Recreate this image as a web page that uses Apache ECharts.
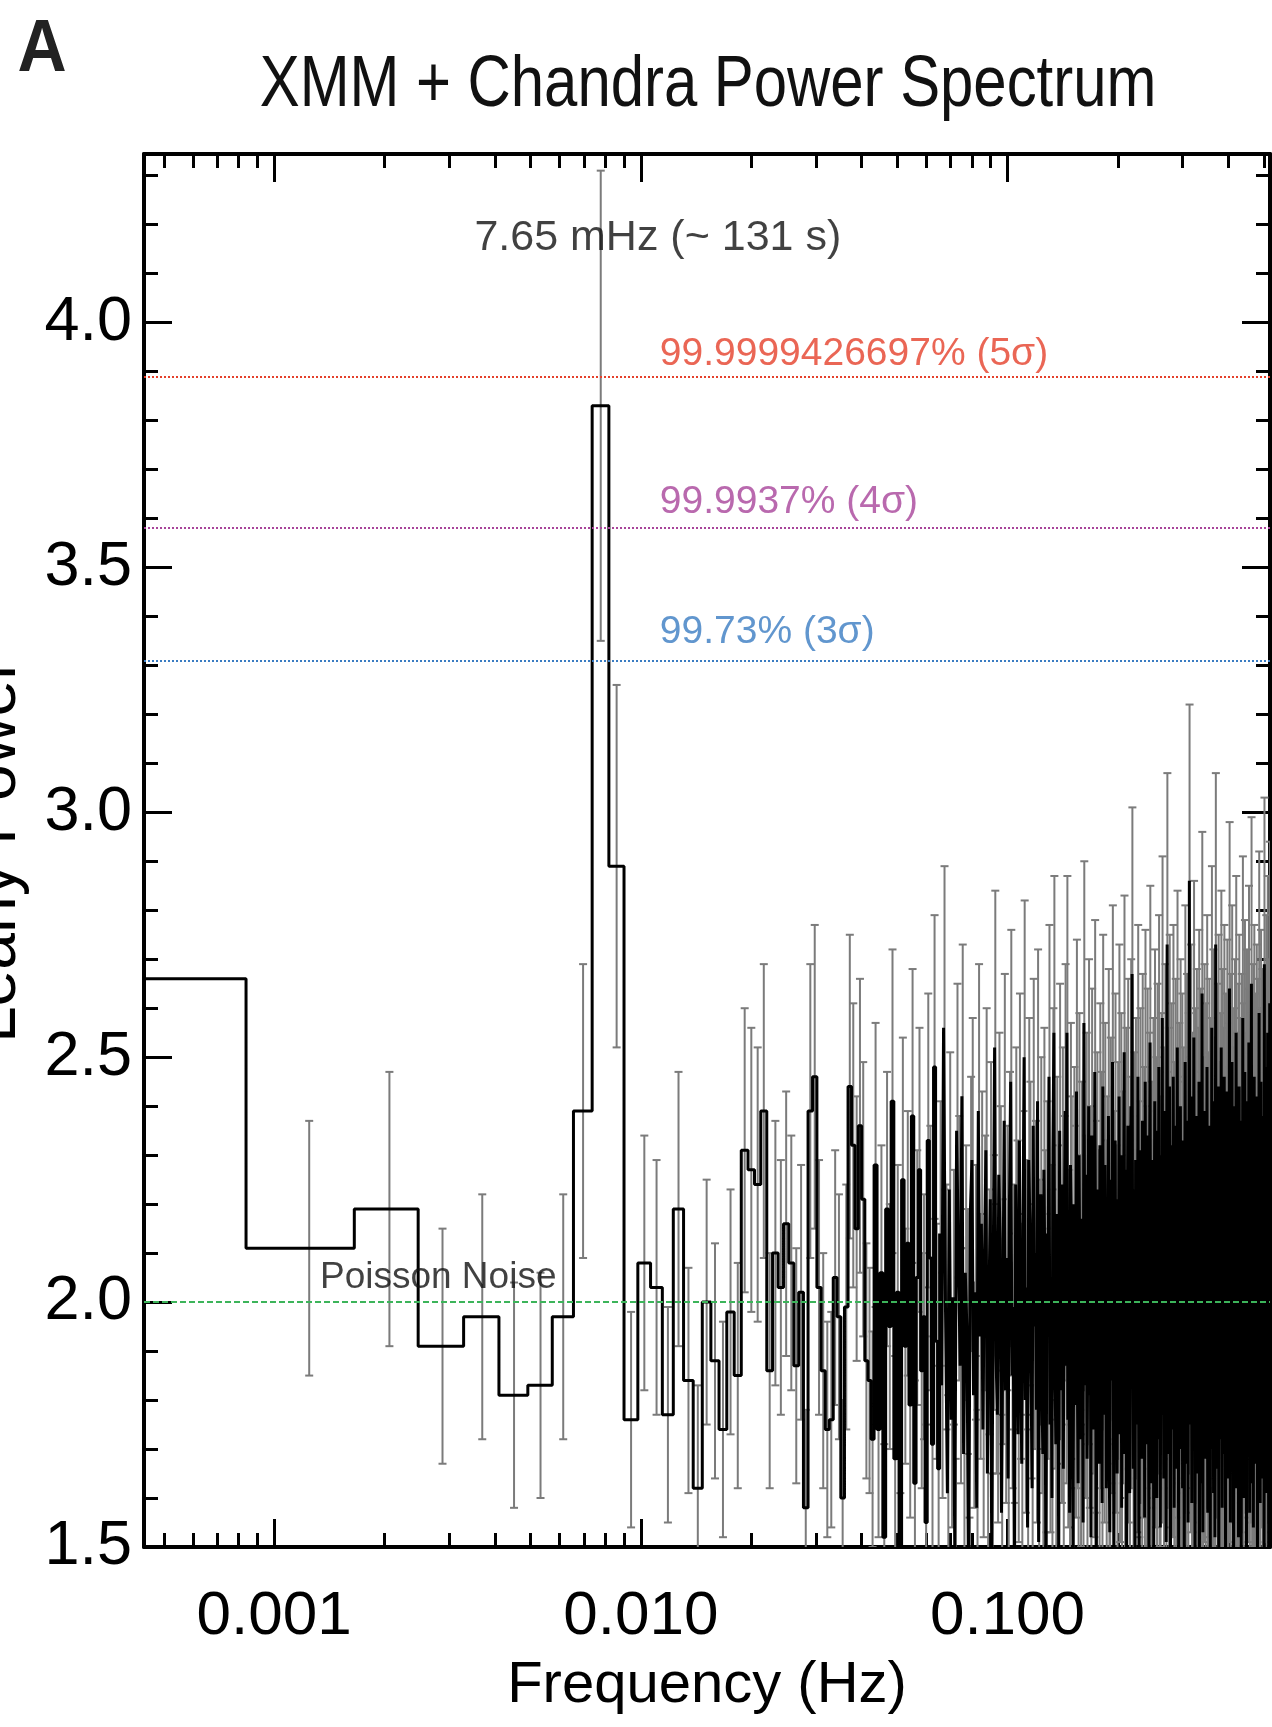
<!DOCTYPE html>
<html>
<head>
<meta charset="utf-8">
<script src="https://cdn.jsdelivr.net/npm/echarts@6/dist/echarts.min.js"></script>
<style>
  html, body { margin: 0; padding: 0; background: #fff; }
  #chart { width: 1272px; height: 1727px; }
</style>
</head>
<body>
<div id="chart"></div>
<script>
// Fourier frequency grid (Hz): first bin + constant spacing
const f0 = 0.00043;
const df = 0.000816;

// Leahy power per frequency bin (dense part estimated)
const power = [
  2.66, 2.11, 2.19, 1.91, 1.97, 1.81, 1.83, 1.97, 2.39, 3.83, 2.89, 1.76, 2.08, 2.03, 1.77, 2.19, 1.84, 1.62, 2.00, 1.88,
  1.74, 1.98, 1.85, 2.31, 2.27, 2.24, 2.39, 1.86, 2.10, 2.03, 2.16, 2.08, 1.87, 2.02, 1.58, 2.39, 2.46, 2.03, 1.86, 1.74,
  1.76, 2.05, 1.97, 1.60, 1.99,
  2.44, 2.32, 2.15, 2.36, 2.21, 1.88, 1.84, 1.72, 2.28, 1.74, 2.06, 1.52, 2.19, 1.95, 2.41, 1.68, 2.02, 1.43, 2.25, 1.91,
  2.12, 1.79, 2.38, 1.63, 2.05, 2.27, 1.86, 1.97, 1.55, 2.33, 2.09, 1.71, 2.48, 1.92, 1.66, 2.14, 1.83, 2.56, 1.99, 1.61,
  2.23, 1.76, 2.01, 1.49, 2.35, 2.11, 1.87, 2.42, 1.69, 2.06, 1.94, 1.38, 2.18, 2.29, 1.81, 2.02, 1.58, 2.39, 1.93, 2.16,
  1.74, 2.08, 2.31, 1.65, 1.98, 2.21, 1.46, 2.04, 2.52, 1.89, 1.77, 2.26, 2.13, 1.57, 1.96, 2.37, 1.82, 2.09, 1.64, 2.19,
  2.45, 1.85, 1.99, 1.41, 2.24, 2.07, 1.73, 2.33, 1.92, 1.67, 2.12, 2.50, 1.80, 2.03, 1.54, 2.29, 2.17, 1.88, 1.62, 2.36,
  1.95, 2.10, 1.78, 2.41, 1.51, 2.00, 2.22, 1.84, 1.69, 2.27, 2.05, 1.36, 2.14, 1.93, 2.46, 1.75, 2.02, 1.60, 2.31, 2.55,
  1.90, 1.71, 2.18, 2.06, 1.48, 2.35, 1.97, 1.82, 2.24, 1.66, 2.11, 2.39, 1.87, 2.55, 1.76, 2.01, 1.57, 2.28, 2.15, 1.92,
  1.44, 2.20, 2.09, 1.79, 2.43, 1.86, 1.63, 2.30, 2.04, 1.72, 2.17, 1.98, 1.55, 2.57, 2.08, 1.83, 2.26, 1.68, 1.96, 2.40,
  1.81, 2.13, 1.52, 2.34, 2.01, 1.89, 1.74, 2.47, 2.10, 1.39, 2.23, 1.94, 2.05, 1.67, 2.32, 1.85, 2.19, 1.59, 2.44, 1.99,
  1.77, 2.28, 2.07, 1.62, 2.15, 1.91, 2.38, 1.70, 1.53, 2.25, 2.02, 1.84, 2.49, 1.96, 1.45, 2.12, 2.33, 1.80, 2.06, 1.65,
  2.21, 1.93, 2.42, 1.73, 1.98, 2.30, 1.58, 2.16, 1.87, 2.04, 2.51, 1.69, 1.90, 2.27, 1.42, 2.09, 2.36, 1.78, 2.00, 1.61,
  2.18, 2.40, 1.85, 2.67, 1.95, 1.66, 2.23, 2.11, 1.50, 2.29, 1.88, 2.05, 1.75, 2.46, 1.97, 1.35, 2.14, 2.31, 1.82, 2.02,
  1.68, 2.37, 2.08, 1.79, 2.20, 1.56, 2.45, 1.92, 2.13, 1.71, 2.34, 2.01, 1.86, 1.47, 2.26, 2.53, 1.94, 1.63, 2.17, 2.07,
  1.83, 2.29, 1.40, 2.12, 2.41, 1.76, 1.99, 2.22, 1.60, 2.35, 2.04, 1.89, 2.48, 1.72, 2.15, 1.54, 2.03, 2.30, 1.90, 2.58,
  1.77, 2.10, 1.64, 2.24, 1.96, 2.39, 1.85, 1.51, 2.19, 2.73, 2.06, 1.81, 2.27, 1.69, 2.44, 1.93, 1.37, 2.14, 2.32, 1.87,
  2.01, 1.74, 2.46, 2.09, 1.58, 2.21, 1.95, 2.36, 1.66, 2.13, 1.88, 2.52, 1.79, 2.05, 1.45, 2.28, 2.17, 1.91, 2.40, 1.70,
  2.11, 1.84, 2.33, 1.62, 2.02, 2.24, 1.97, 1.43, 2.18, 2.49, 1.80, 2.07, 1.67, 2.37, 1.93, 2.15, 1.55, 2.30, 2.03, 2.86,
  1.89, 2.20, 1.75, 2.42, 2.00, 1.59, 2.26, 1.86, 2.12, 1.71, 2.54, 1.94, 2.08, 1.48, 2.31, 1.82, 2.16, 2.38, 1.65, 2.04,
  1.92, 2.27, 1.78, 2.45, 1.36, 2.10, 1.98, 2.34, 1.63, 2.19, 2.06, 2.63, 1.85, 1.53, 2.22, 2.01, 1.73, 2.39, 1.90, 2.14,
  1.68, 2.32, 2.05, 1.81, 2.48, 1.96, 1.57, 2.23, 2.11, 1.74, 2.36, 1.88, 2.03, 1.44, 2.29, 2.17, 1.93, 2.56, 1.70, 2.08,
  1.99, 2.41, 1.61, 2.13, 1.86, 2.25, 1.52, 2.02, 2.73, 1.79, 2.18, 1.95, 2.35, 1.66, 2.09, 1.90, 2.44, 1.39, 2.21, 2.00,
  1.83, 2.30, 2.07, 1.72, 2.52, 1.94, 2.15, 1.58, 2.38, 1.87, 2.04, 1.69, 2.27, 2.46, 1.80, 1.97, 2.12, 1.49, 2.33, 1.91,
  2.20, 1.76, 2.43, 2.06, 1.64, 2.28, 1.98, 1.85, 2.16, 2.64, 1.73, 2.01, 1.55, 2.37, 1.92, 2.10, 1.81, 2.49, 1.67, 2.24,
  1.96, 2.13, 1.41, 2.31, 2.05, 1.78, 2.40, 1.89, 2.19, 1.62, 2.55, 2.02, 1.86, 2.26, 1.71, 2.09, 1.95, 2.35, 1.52, 2.17,
  2.44, 1.84, 2.03, 1.68, 2.29, 1.99, 2.11, 1.46, 2.37, 1.92, 2.22, 1.75, 2.58, 1.88, 2.06, 1.60, 2.32, 2.14, 1.80, 2.47,
  1.93, 2.18, 1.65, 2.26, 2.00, 1.38, 2.41, 1.87, 2.12, 1.73, 2.34, 2.04, 1.97, 2.53, 1.82, 2.23, 1.57, 2.08, 1.90, 2.30,
  1.77, 2.15, 2.65, 1.95, 1.63, 2.27, 2.07, 1.85, 2.39, 1.54, 2.20, 1.98, 2.46, 1.72, 2.10, 1.89, 2.33, 1.67, 2.01, 2.24,
  1.81, 2.42, 1.96, 2.13, 1.47, 2.36, 2.05, 1.79, 2.28, 1.91, 2.59, 1.70, 2.17, 2.02, 1.59, 2.31, 1.88, 2.45, 2.09, 1.76,
  2.21, 1.94, 2.38, 1.64, 2.06, 2.27, 1.83, 2.14, 1.99, 1.50, 2.69, 2.03, 1.86, 2.34, 1.73, 2.19, 1.92, 2.48, 1.61, 2.11,
  2.32, 1.84, 2.07, 2.55, 1.78, 2.25, 1.97, 1.42, 2.40, 2.10, 1.89, 2.61, 2.00, 1.75, 2.29
];

// 1-sigma error per bin
const powerErr = [
  .34, .26, .28, .24, .25, .23, .23, .25, .30, .48, .37, .22, .26, .26, .22, .28, .23, .21, .25, .24,
  .22, .25, .23, .29, .29, .28, .30, .24, .27, .26, .27, .26, .24, .26, .20, .30, .31, .26, .24, .22,
  .22, .26, .25, .20, .25,
  .31, .29, .27, .30, .28, .24, .23, .22, .29, .22, .26, .19, .28, .25, .31, .21, .26, .18, .29, .24,
  .27, .23, .30, .21, .26, .29, .24, .25, .20, .30, .27, .22, .31, .24, .21, .27, .23, .33, .25, .20,
  .28, .22, .26, .19, .30, .27, .24, .31, .21, .26, .25, .18, .28, .29, .23, .26, .20, .30, .25, .27,
  .22, .26, .29, .21, .25, .28, .19, .26, .32, .24, .22, .29, .27, .20, .25, .30, .23, .27, .21, .28,
  .31, .23, .25, .18, .28, .26, .22, .30, .24, .21, .27, .32, .23, .26, .20, .29, .28, .24, .21, .30,
  .25, .27, .23, .31, .19, .25, .28, .23, .21, .29, .26, .17, .27, .25, .31, .22, .26, .20, .29, .32,
  .24, .22, .28, .26, .19, .30, .25, .23, .28, .21, .27, .30, .24, .32, .22, .26, .20, .29, .27, .24,
  .18, .28, .27, .23, .31, .24, .21, .29, .26, .22, .28, .25, .20, .33, .26, .23, .29, .21, .25, .30,
  .23, .27, .19, .30, .26, .24, .22, .31, .27, .18, .28, .25, .26, .21, .29, .23, .28, .20, .31, .25,
  .22, .29, .26, .21, .27, .24, .30, .22, .19, .29, .26, .23, .32, .25, .18, .27, .30, .23, .26, .21,
  .28, .25, .31, .22, .25, .29, .20, .27, .24, .26, .32, .21, .24, .29, .18, .27, .30, .23, .25, .20,
  .28, .30, .23, .34, .25, .21, .28, .27, .19, .29, .24, .26, .22, .31, .25, .17, .27, .29, .23, .26,
  .21, .30, .26, .23, .28, .20, .31, .24, .27, .22, .30, .26, .24, .19, .29, .32, .25, .21, .28, .26,
  .23, .29, .18, .27, .31, .22, .25, .28, .20, .30, .26, .24, .31, .22, .27, .20, .26, .29, .24, .33,
  .22, .27, .21, .28, .25, .30, .23, .19, .28, .35, .26, .23, .29, .21, .31, .25, .17, .27, .29, .24,
  .26, .22, .31, .27, .20, .28, .25, .30, .21, .27, .24, .32, .23, .26, .18, .29, .28, .24, .30, .22,
  .27, .23, .30, .21, .26, .28, .25, .18, .28, .32, .23, .26, .21, .30, .25, .27, .20, .29, .26, .36,
  .24, .28, .22, .31, .25, .20, .29, .24, .27, .22, .32, .25, .26, .19, .29, .23, .27, .30, .21, .26,
  .24, .29, .23, .31, .17, .27, .25, .30, .21, .28, .26, .33, .23, .19, .28, .26, .22, .30, .24, .27,
  .21, .29, .26, .23, .31, .25, .20, .28, .27, .22, .30, .24, .26, .18, .29, .28, .25, .33, .22, .26,
  .25, .31, .20, .27, .24, .29, .19, .26, .35, .23, .28, .25, .30, .21, .27, .24, .31, .18, .28, .25,
  .23, .29, .26, .22, .32, .25, .27, .20, .30, .24, .26, .21, .29, .31, .23, .25, .27, .19, .30, .24,
  .28, .22, .31, .26, .21, .29, .25, .23, .27, .34, .22, .26, .20, .30, .24, .27, .23, .32, .21, .28,
  .25, .27, .18, .29, .26, .23, .30, .24, .28, .21, .32, .26, .24, .29, .22, .27, .25, .30, .19, .28,
  .31, .23, .26, .21, .29, .25, .27, .19, .30, .24, .28, .22, .33, .24, .26, .20, .29, .27, .23, .31,
  .25, .28, .21, .29, .25, .18, .31, .24, .27, .22, .30, .26, .25, .32, .23, .28, .20, .26, .24, .29,
  .22, .27, .34, .25, .21, .29, .26, .23, .30, .20, .28, .25, .31, .22, .27, .24, .30, .21, .26, .28,
  .23, .31, .25, .27, .19, .30, .26, .23, .29, .24, .33, .22, .28, .26, .20, .29, .24, .31, .27, .22,
  .28, .25, .30, .21, .26, .29, .23, .27, .25, .19, .34, .26, .24, .30, .22, .28, .24, .31, .20, .27,
  .29, .23, .26, .32, .23, .29, .25, .18, .30, .27, .24, .33, .25, .22, .29
];

const xMajorTicks = [0.001, 0.01, 0.1];
const xMinorTicks = [
  0.0005, 0.0006, 0.0007, 0.0008, 0.0009,
  0.002, 0.003, 0.004, 0.005, 0.006, 0.007, 0.008, 0.009,
  0.02, 0.03, 0.04, 0.05, 0.06, 0.07, 0.08, 0.09,
  0.2, 0.3, 0.4, 0.5
];
const yMajorTicks = [1.5, 2.0, 2.5, 3.0, 3.5, 4.0];
const yMinorTicks = [
  1.6, 1.7, 1.8, 1.9, 2.1, 2.2, 2.3, 2.4, 2.6, 2.7, 2.8, 2.9,
  3.1, 3.2, 3.3, 3.4, 3.6, 3.7, 3.8, 3.9, 4.1, 4.2, 4.3
];

// significance levels
const sigmaLevels = [3.886, 3.578, 3.311];
const sigmaNames = ['99.9999426697% (5\u03c3)', '99.9937% (4\u03c3)', '99.73% (3\u03c3)'];
const sigmaColors = ['#e5402b', '#a8449a', '#3a7cc2'];
const poissonLevel = 2.0;

const FONT = "'Liberation Sans', Arial, sans-serif";
const X_MIN = 0.0004415, X_MAX = 0.52;
const Y_MIN = 1.5, Y_MAX = 4.344;

const freq = power.map((p, k) => f0 + k * df);
const stepData = [];
power.forEach((p, k) => {
  stepData.push([freq[k] - df / 2, p]);
  stepData.push([freq[k] + df / 2, p]);
});
const errData = power.map((p, k) => [freq[k], p - powerErr[k], p + powerErr[k]]);

function xAxisDef(pos, ticks, len, showLine, showLabel) {
  return {
    type: 'log', logBase: 10, min: X_MIN, max: X_MAX, position: pos,
    axisLine: { show: showLine, onZero: false, lineStyle: { color: '#000', width: 4 } },
    axisTick: { show: true, inside: true, length: len, customValues: ticks, lineStyle: { color: '#000', width: 3 } },
    axisLabel: showLabel ? {
      show: true, customValues: ticks, margin: 39, color: '#000',
      fontSize: 62, fontFamily: FONT,
      formatter: v => Number(v).toFixed(3)
    } : { show: false },
    splitLine: { show: false },
    minorTick: { show: false }
  };
}
function yAxisDef(pos, ticks, len, showLine, showLabel) {
  return {
    type: 'value', min: Y_MIN, max: Y_MAX, position: pos,
    axisLine: { show: showLine, onZero: false, lineStyle: { color: '#000', width: 4 } },
    axisTick: { show: true, inside: true, length: len, customValues: ticks, lineStyle: { color: '#000', width: 3 } },
    axisLabel: showLabel ? {
      show: true, customValues: ticks, margin: 12, color: '#000',
      fontSize: 63, fontFamily: FONT,
      formatter: v => Number(v).toFixed(1)
    } : { show: false },
    splitLine: { show: false }
  };
}

const xAxes = [
  xAxisDef('bottom', xMajorTicks, 28, true, true),
  xAxisDef('bottom', xMinorTicks, 14, false, false),
  xAxisDef('top', xMajorTicks, 28, true, false),
  xAxisDef('top', xMinorTicks, 14, false, false)
];
xAxes[0].name = 'Frequency (Hz)';
xAxes[0].nameLocation = 'middle';
xAxes[0].nameGap = 110;
xAxes[0].nameTextStyle = { fontSize: 58, fontFamily: FONT, color: '#000' };

const yAxes = [
  yAxisDef('left', yMajorTicks, 28, true, true),
  yAxisDef('left', yMinorTicks, 14, false, false),
  yAxisDef('right', yMajorTicks, 28, true, false),
  yAxisDef('right', yMinorTicks, 14, false, false)
];
yAxes[0].name = 'Leahy Power';
yAxes[0].nameLocation = 'middle';
yAxes[0].nameGap = 114;
yAxes[0].nameTextStyle = { fontSize: 66, fontFamily: FONT, color: '#000' };

const chart = echarts.init(document.getElementById('chart'), null, { renderer: 'canvas' });
chart.setOption({
  animation: false,
  backgroundColor: '#fff',
  grid: { left: 144, right: 2, top: 154, bottom: 180, containLabel: false, outerBoundsMode: 'none' },
  xAxis: xAxes,
  yAxis: yAxes,
  graphic: [
    { type: 'text', x: 42, y: 51, scaleX: 0.92, style: { text: 'A', fill: '#222', fontSize: 74, fontWeight: 'bold', fontFamily: FONT, align: 'center', verticalAlign: 'middle' } },
    { type: 'text', x: 708, y: 86, scaleX: 0.82, style: { text: 'XMM + Chandra Power Spectrum', fill: '#111', fontSize: 73, fontFamily: FONT, align: 'center', verticalAlign: 'middle' } }
  ],
  series: [
    {
      name: 'errors',
      type: 'custom',
      xAxisIndex: 0, yAxisIndex: 0,
      clip: true, silent: true, z: 2,
      encode: { x: 0, y: [1, 2] },
      data: errData,
      renderItem: (params, api) => {
        const x = api.value(0);
        const lo = api.coord([x, api.value(1)]);
        const hi = api.coord([x, api.value(2)]);
        const w = 4;
        const st = { stroke: '#7b7b7b', lineWidth: 2 };
        return {
          type: 'group',
          children: [
            { type: 'line', shape: { x1: lo[0], y1: lo[1], x2: hi[0], y2: hi[1] }, style: st },
            { type: 'line', shape: { x1: lo[0] - w, y1: lo[1], x2: lo[0] + w, y2: lo[1] }, style: st },
            { type: 'line', shape: { x1: hi[0] - w, y1: hi[1], x2: hi[0] + w, y2: hi[1] }, style: st }
          ]
        };
      }
    },
    {
      name: 'power',
      type: 'line',
      xAxisIndex: 0, yAxisIndex: 0,
      data: stepData,
      symbol: 'none',
      clip: true, silent: true, z: 3,
      lineStyle: { color: '#000', width: 3 }
    },
    {
      name: 'levels',
      type: 'line',
      xAxisIndex: 0, yAxisIndex: 0,
      data: [], z: 4, silent: true,
      markLine: {
        silent: true, symbol: ['none', 'none'], animation: false,
        label: { show: false },
        data: sigmaLevels.map((v, i) => ({
          yAxis: v, lineStyle: { color: sigmaColors[i], type: [2, 2], width: 2 }
        })).concat([{ yAxis: poissonLevel, lineStyle: { color: '#3cb45a', type: [6, 3], width: 2 } }])
      }
    },
    {
      name: 'notes',
      type: 'scatter',
      xAxisIndex: 0, yAxisIndex: 0,
      symbolSize: 0, silent: true, z: 5,
      label: { show: true, position: 'right', distance: 0, fontFamily: FONT, color: '#000' },
      data: [
        { value: [0.003516, 4.173], label: { formatter: '7.65 mHz (~ 131 s)', fontSize: 43, color: '#111' } },
        { value: [0.011265, 3.935], label: { formatter: sigmaNames[0], fontSize: 39, color: sigmaColors[0] } },
        { value: [0.011265, 3.632], label: { formatter: sigmaNames[1], fontSize: 39, color: sigmaColors[1] } },
        { value: [0.011265, 3.368], label: { formatter: sigmaNames[2], fontSize: 39, color: sigmaColors[2] } },
        { value: [0.001333, 2.049], label: { formatter: 'Poisson Noise', fontSize: 37, color: '#111' } }
      ]
    }
  ]
});
</script>
</body>
</html>
